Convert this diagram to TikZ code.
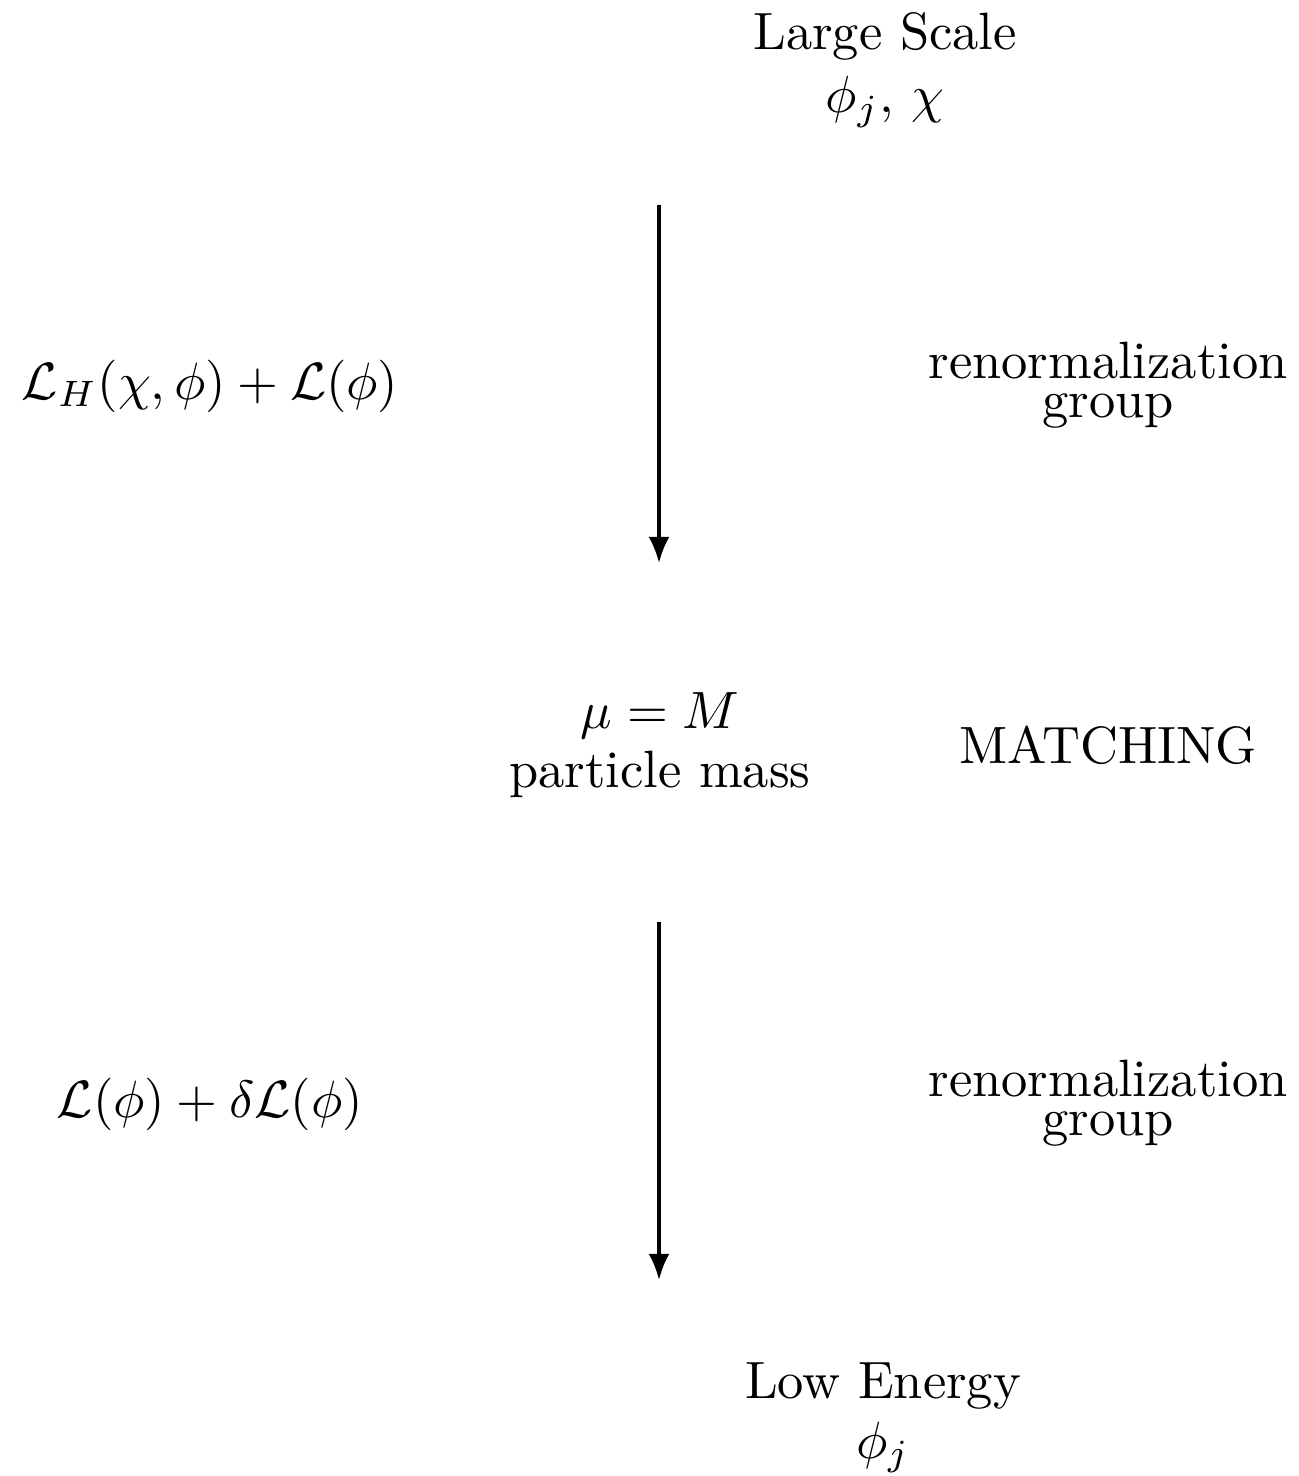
\documentclass[tikz,border=0pt]{standalone}
\usetikzlibrary{arrows.meta}
\begin{document}
\begin{tikzpicture}[x=0.190476pt,y=-0.190476pt,
  lbl/.style={anchor=base,inner sep=0pt},
  flow/.style={-{Latex[length=5pt,width=4pt]},line width=0.6pt}]
\useasboundingbox (0,0) rectangle (1299,1476);
\node[lbl] (ls1) at (885,50) {Large Scale};
\node[lbl] (ls2) at (885,113) {$\phi_j,\,\chi$};
\coordinate (a1s) at (659,205);
\coordinate (a1e) at (659,563);
\draw[flow] (a1s) -- (a1e);
\node[lbl] (lh) at (210,399) {$\mathcal{L}_H(\chi,\phi)+\mathcal{L}(\phi)$};
\node[lbl] (rg1a) at (1108,378) {renormalization};
\node[lbl] (rg1b) at (1108,417) {group};
\node[lbl] (mu) at (660,728) {$\mu=M$};
\node[lbl] (pm) at (660,787) {particle mass};
\node[lbl] (match) at (1108,763) {MATCHING};
\coordinate (a2s) at (659,922);
\coordinate (a2e) at (659,1280);
\draw[flow] (a2s) -- (a2e);
\node[lbl] (ld) at (210,1117) {$\mathcal{L}(\phi)+\delta\mathcal{L}(\phi)$};
\node[lbl] (rg2a) at (1108,1096) {renormalization};
\node[lbl] (rg2b) at (1108,1135) {group};
\node[lbl] (le1) at (883,1398) {Low Energy};
\node[lbl] (le2) at (883,1458) {$\phi_j$};
\end{tikzpicture}
\end{document}
